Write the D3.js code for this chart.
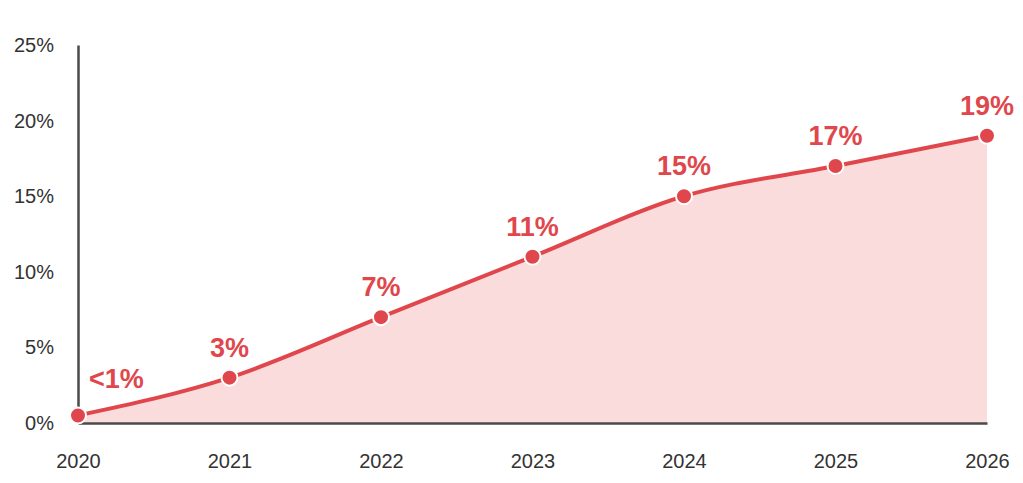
<!DOCTYPE html>
<html>
<head>
<meta charset="utf-8">
<script src="https://cdn.jsdelivr.net/npm/d3@7"></script>
<style>
  body { margin: 0; background: #fff; }
  text { font-family: "Liberation Sans", Arial, sans-serif; }
</style>
</head>
<body>
<div id="chart"></div>
<script>
var years = [2020, 2021, 2022, 2023, 2024, 2025, 2026];
var values = [0.5, 3, 7, 11, 15, 17, 19];
var labels = ["<1%", "3%", "7%", "11%", "15%", "17%", "19%"];
var yTicks = [0, 5, 10, 15, 20, 25];

var data = years.map(function(y, i) {
    return { year: y, val: values[i], label: labels[i] };
});

var width = 1023,
    height = 483;

var margin = { top: 45, right: 36, bottom: 60, left: 78 };

var red = "#e0474c",
    fill = "#fbdcdd",
    axisCol = "#4a4a4a";

var xScale = d3.scaleLinear()
        .domain([2020, 2026])
        .range([margin.left, width - margin.right]),
    yScale = d3.scaleLinear()
        .domain([0, 25])
        .range([height - margin.bottom, margin.top]);

var svg = d3.select("#chart")
    .append("svg")
    .attr("width", width)
    .attr("height", height);

// -- area and line --
var area = d3.area()
    .x(function(d) { return xScale(d.year); })
    .y0(yScale(0))
    .y1(function(d) { return yScale(d.val); })
    .curve(d3.curveMonotoneX);

var line = d3.line()
    .x(function(d) { return xScale(d.year); })
    .y(function(d) { return yScale(d.val); })
    .curve(d3.curveMonotoneX);

svg.append("path")
    .datum(data)
    .attr("d", area)
    .attr("fill", fill);

// -- axes --
var yAxis = d3.axisLeft(yScale)
    .tickValues(yTicks)
    .tickSize(0)
    .tickPadding(24)
    .tickFormat(function(d) { return d + "%"; });

var gy = svg.append("g")
    .attr("transform", "translate(" + margin.left + ",0)")
    .call(yAxis);
gy.select(".domain").attr("stroke", axisCol).attr("stroke-width", 2.5);
gy.selectAll("text")
    .attr("fill", "#333")
    .style("font-size", "20px");

var xAxis = d3.axisBottom(xScale)
    .tickValues(years)
    .tickSize(0)
    .tickPadding(31)
    .tickFormat(d3.format("d"));

var gx = svg.append("g")
    .attr("transform", "translate(0," + yScale(0) + ")")
    .call(xAxis);
gx.select(".domain").attr("stroke", axisCol).attr("stroke-width", 2.5);
gx.selectAll("text")
    .attr("fill", "#333")
    .style("font-size", "20px");

svg.append("path")
    .datum(data)
    .attr("d", line)
    .attr("fill", "none")
    .attr("stroke", red)
    .attr("stroke-width", 4);

// -- points --
svg.selectAll("circle.pt")
    .data(data)
    .enter()
    .append("circle")
    .attr("class", "pt")
    .attr("cx", function(d) { return xScale(d.year); })
    .attr("cy", function(d) { return yScale(d.val); })
    .attr("r", 8)
    .attr("fill", red)
    .attr("stroke", "#fff")
    .attr("stroke-width", 2);

// -- value labels --
svg.selectAll("text.lbl")
    .data(data)
    .enter()
    .append("text")
    .attr("class", "lbl")
    .attr("x", function(d, i) { return i == 0 ? xScale(d.year) + 11 : xScale(d.year); })
    .attr("y", function(d, i) { return i == 0 ? yScale(d.val) - 27 : yScale(d.val) - 21; })
    .attr("text-anchor", function(d, i) { return i == 0 ? "start" : "middle"; })
    .attr("fill", red)
    .style("font-size", "27px")
    .style("font-weight", "bold")
    .text(function(d) { return d.label; });
</script>
</body>
</html>
